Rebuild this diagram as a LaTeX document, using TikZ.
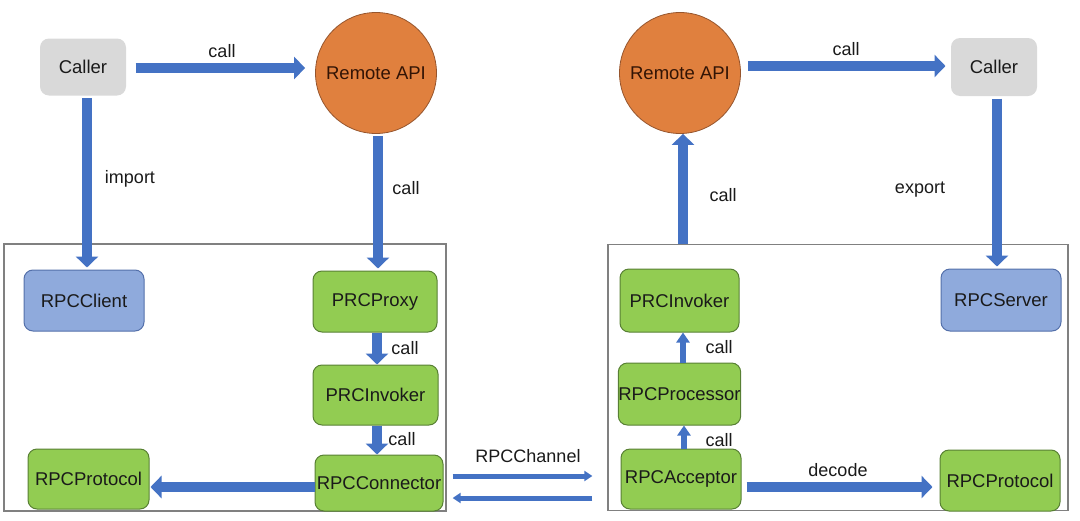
\documentclass[tikz,border=0pt]{standalone}
\usepackage{fontspec}
\setmainfont{Liberation Sans}
\usetikzlibrary{arrows.meta}
\definecolor{arrowblue}{RGB}{68,114,196}
\definecolor{greenfill}{RGB}{146,204,82}
\definecolor{greenline}{RGB}{88,128,52}
\definecolor{bluefill}{RGB}{143,170,220}
\definecolor{blueline}{RGB}{84,112,170}
\definecolor{grayfill}{RGB}{217,217,217}
\definecolor{apifill}{RGB}{224,128,62}
\definecolor{apiline}{RGB}{150,85,45}
\definecolor{frameline}{RGB}{128,128,128}
\definecolor{txt}{RGB}{26,26,26}
\tikzset{
  base/.style={inner sep=0pt, font=\fontsize{18.5}{20}\selectfont, text=txt},
  rbox/.style={base, rounded corners=9pt, line width=1pt},
  greenbox/.style={rbox, fill=greenfill, draw=greenline},
  bluebox/.style={rbox, fill=bluefill, draw=blueline},
  graybox/.style={rbox, fill=grayfill},
  apinode/.style={base, circle, minimum size=121pt, fill=apifill, draw=apiline, line width=0.8pt, text={rgb,255:red,50;green,20;blue,5}},
  frame/.style={draw=frameline, line width=1.3pt, inner sep=0pt},
  bigarrow/.style={draw=arrowblue, line width=10pt, -{Triangle[length=11pt,width=22pt]}},
  smallarrow/.style={draw=arrowblue, line width=6pt, -{Triangle[length=10pt,width=13pt]}},
  chanarrow/.style={draw=arrowblue, line width=5pt, -{Triangle[length=8pt,width=10pt]}},
  lbl/.style={base, font=\fontsize{18}{20}\selectfont},
}
\begin{document}
\begin{tikzpicture}[x=1pt,y=-1pt]
\useasboundingbox (0,0) rectangle (1080,520);
% frames
\node[frame, minimum width=442pt, minimum height=267pt] (lframe) at (225,377.5) {};
\node[frame, minimum width=460pt, minimum height=266pt] (rframe) at (838,377.5) {};
% left side
\node[graybox, minimum width=86pt, minimum height=57pt] (lcaller) at (83,67) {Caller};
\node[apinode] (lapi) at (376,73) {Remote API};
\node[bluebox, minimum width=120pt, minimum height=61pt] (lclient) at (84,300.5) {RPCClient};
\node[greenbox, minimum width=124pt, minimum height=61pt] (lproxy) at (375,301.5) {PRCProxy};
\node[greenbox, minimum width=125pt, minimum height=60pt] (linv) at (375.5,395) {PRCInvoker};
\node[greenbox, minimum width=128pt, minimum height=56pt] (lconn) at (379,483) {RPCConnector};
\node[greenbox, minimum width=121pt, minimum height=60pt] (lproto) at (88.5,479) {RPCProtocol};
% right side
\node[apinode] (rapi) at (680,73) {Remote API};
\node[graybox, minimum width=86pt, minimum height=58pt] (rcaller) at (994,67) {Caller};
\node[greenbox, minimum width=119pt, minimum height=63pt] (rinv) at (679.5,300.5) {PRCInvoker};
\node[bluebox, minimum width=120pt, minimum height=62pt] (rserver) at (1001,300) {RPCServer};
\node[greenbox, minimum width=119pt, minimum height=62pt] (rproc) at (679.5,394) {RPCProcessor};
\node[greenbox, minimum width=120pt, minimum height=60pt] (racc) at (681,479) {RPCAcceptor};
\node[greenbox, minimum width=120pt, minimum height=61pt] (rproto) at (1000,480.5) {RPCProtocol};
% left arrows
\draw[bigarrow] ([xshift=9pt]lcaller.east |- 0,68) -- ([xshift=-10pt]lapi.west |- 0,68);
\node[lbl] (lcall1) at (222,51) {call};
\draw[bigarrow] ([yshift=-2pt]lcaller.south -| 87,0) -- ([yshift=2pt]lclient.north -| 87,0);
\node[lbl] (limport) at (130,179) {import};
\draw[bigarrow] ([yshift=-2pt]lapi.south -| 378,0) -- ([yshift=2pt]lproxy.north -| 378,0);
\node[lbl] (lcall2) at (406,188) {call};
\draw[bigarrow] (lproxy.south -| 377,0) -- (linv.north -| 377,0);
\node[lbl] (lcall3) at (405,348) {call};
\draw[bigarrow] (linv.south -| 377,0) -- (lconn.north -| 377,0);
\node[lbl] (lcall4) at (402,439) {call};
\draw[bigarrow] (lconn.west |- 0,487) -- ([xshift=1pt]lproto.east |- 0,487);
% channel
\draw[chanarrow] ([xshift=6pt]lframe.east |- 0,476) -- ([xshift=-15pt]rframe.west |- 0,476);
\draw[chanarrow] ([xshift=-15pt]rframe.west |- 0,498) -- ([xshift=6pt]lframe.east |- 0,498);
\node[lbl] (chan) at (528,456) {RPCChannel};
% right arrows
\draw[bigarrow] (rframe.north -| 683,0) -- (rapi.south -| 683,0);
\node[lbl] (rcall1) at (723,195) {call};
\draw[bigarrow] ([xshift=7pt]rapi.east |- 0,66) -- ([xshift=-5pt]rcaller.west |- 0,66);
\node[lbl] (rcall2) at (846,49) {call};
\draw[bigarrow] ([yshift=-2pt]rcaller.south -| 997,0) -- ([yshift=2pt]rserver.north -| 997,0);
\node[lbl] (rexport) at (920,190) {export};
\draw[smallarrow] (racc.north -| 684,0) -- (rproc.south -| 684,0);
\node[lbl] (rcall3) at (719,440) {call};
\draw[smallarrow] (rproc.north -| 683,0) -- (rinv.south -| 683,0);
\node[lbl] (rcall4) at (719,347) {call};
\draw[bigarrow] ([xshift=5pt]racc.east |- 0,487) -- ([xshift=-7pt]rproto.west |- 0,487);
\node[lbl] (rdecode) at (838,470) {decode};
\end{tikzpicture}
\end{document}
